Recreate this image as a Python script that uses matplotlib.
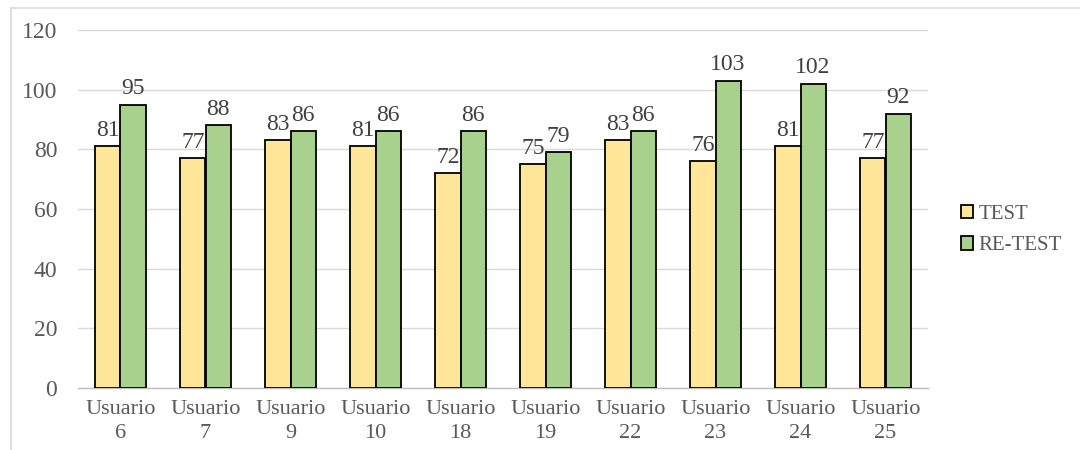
import matplotlib.pyplot as plt
import numpy as np
from matplotlib.lines import Line2D

plt.rcParams["font.family"] = ["Liberation Serif", "DejaVu Serif"]

# data
usuarios = ["6", "7", "9", "10", "18", "19", "22", "23", "24", "25"]
test = [81, 77, 83, 81, 72, 75, 83, 76, 81, 77]
retest = [95, 88, 86, 86, 86, 79, 86, 103, 102, 92]
labels = [f"Usuario\n{u}" for u in usuarios]

c_test = "#FFE699"
c_retest = "#A9D18E"
txt = "#595959"

fig = plt.figure(figsize=(10.8, 4.5), dpi=100)
ax = fig.add_axes([78 / 1080, 62 / 450, 850 / 1080, 358 / 450])

x = np.arange(len(usuarios))
w = 0.295
b1 = ax.bar(x - w / 2, test, w, color=c_test, edgecolor="black", linewidth=1.3,
            label="TEST", zorder=3)
b2 = ax.bar(x + w / 2, retest, w, color=c_retest, edgecolor="black", linewidth=1.3,
            label="RE-TEST", zorder=3)
ax.bar_label(b1, padding=4, fontsize=17, color="#404040")
ax.bar_label(b2, padding=4, fontsize=17, color="#404040")

ax.set_xlim(-0.5, len(usuarios) - 0.5)
ax.set_ylim(0, 120)
ax.set_yticks(range(0, 121, 20))
ax.set_xticks(x)
ax.set_xticklabels(labels, fontsize=16, color=txt, linespacing=1.3)
ax.tick_params(axis="y", labelsize=17, labelcolor=txt, length=0, pad=15)
ax.tick_params(axis="x", length=0, pad=9)
ax.grid(axis="y", color="#D9D9D9", linewidth=1.0, zorder=0)
for s in ["top", "right", "left"]:
    ax.spines[s].set_visible(False)
ax.spines["bottom"].set_color("#BFBFBF")
ax.spines["bottom"].set_linewidth(1.0)

ax.legend(loc="center left", bbox_to_anchor=(942 / 1080, 220 / 450),
          bbox_transform=fig.transFigure, frameon=False, fontsize=15,
          handlelength=0.6, handleheight=0.6, handletextpad=0.25,
          labelcolor=txt, labelspacing=0.6)

# outer chart border (only left and top visible in the crop)
fig.add_artist(Line2D([10.5 / 1080, 10.5 / 1080], [0, 442 / 450],
                      color="#D9D9D9", linewidth=1.2, transform=fig.transFigure))
fig.add_artist(Line2D([10.5 / 1080, 1], [442 / 450, 442 / 450],
                      color="#D9D9D9", linewidth=1.2, transform=fig.transFigure))

fig.savefig("out.png", dpi=100)
